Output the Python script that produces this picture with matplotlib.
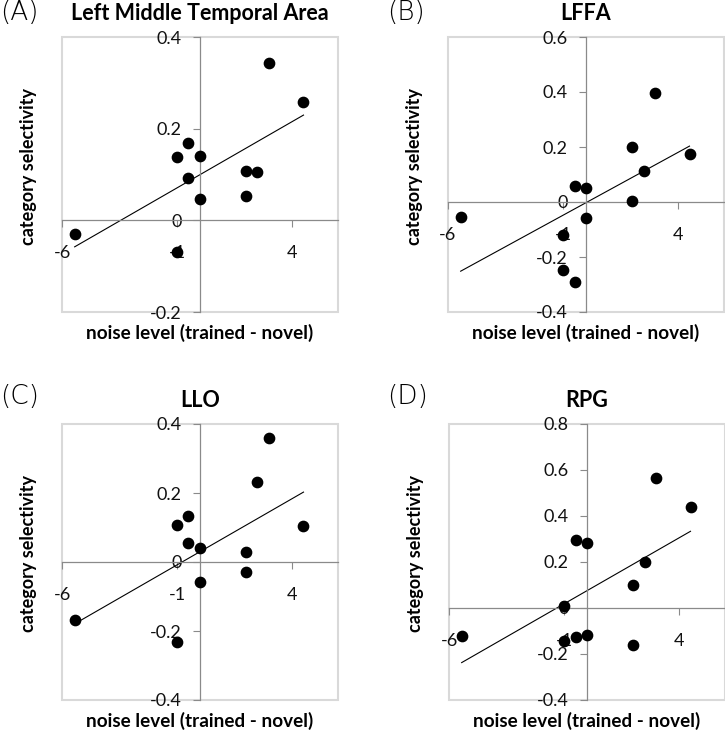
import numpy as np
import matplotlib.pyplot as plt
from matplotlib.patches import Rectangle

# noise level (trained - novel), same subjects in every panel
noise = [-5.45, -1.0, -1.0, -0.5, -0.5, 0.0, 0.0, 2.0, 2.0, 2.5, 3.0, 4.5]

# category selectivity per region
sel_lmta = [-0.029, -0.069, 0.138, 0.168, 0.092, 0.141, 0.046, 0.108, 0.054, 0.105, 0.343, 0.259]
sel_lffa = [-0.056, -0.119, -0.246, 0.058, -0.291, 0.050, -0.058, 0.199, 0.005, 0.112, 0.395, 0.175]
sel_llo = [-0.168, 0.107, -0.232, 0.134, 0.055, 0.041, -0.059, 0.029, -0.030, 0.231, 0.359, 0.105]
sel_rpg = [-0.121, 0.009, -0.145, 0.295, -0.124, 0.284, -0.119, 0.100, -0.161, 0.199, 0.564, 0.441]

letters = ["(A)", "(B)", "(C)", "(D)"]
titles = ["Left Middle Temporal Area", "LFFA", "LLO", "RPG"]
series = [sel_lmta, sel_lffa, sel_llo, sel_rpg]
ylims = [(-0.2, 0.4), (-0.4, 0.6), (-0.4, 0.4), (-0.4, 0.8)]
yticks = [[-0.2, 0, 0.2, 0.4],
          [-0.4, -0.2, 0, 0.2, 0.4, 0.6],
          [-0.4, -0.2, 0, 0.2, 0.4],
          [-0.4, -0.2, 0, 0.2, 0.4, 0.6, 0.8]]
xticks = [-6, -1, 4]

W, H = 725, 730
fig = plt.figure(figsize=(W / 100, H / 100), dpi=100)

# plot boxes in pixels: left, top, width, height
boxes = [(62, 37, 276, 275), (448, 37, 276, 275),
         (62, 424, 276, 276), (449, 424, 276, 276)]

font = "Lato"
axis_grey = "#8a8a8a"
box_grey = "#d9d9d9"

for i in range(4):
    l, t, w, h = boxes[i]
    ax = fig.add_axes([l / W, 1 - (t + h) / H, w / W, h / H])
    x = np.array(noise)
    y = np.array(series[i])

    ax.scatter(x, y, s=55, color="black", zorder=3, clip_on=False)
    # linear trendline
    m, b = np.polyfit(x, y, 1)
    xs = np.array([x.min(), x.max()])
    ax.plot(xs, m * xs + b, color="black", lw=0.8, zorder=2)

    ax.set_xlim(-6, 6)
    ax.set_ylim(*ylims[i])
    ax.spines["left"].set_position("zero")
    ax.spines["bottom"].set_position("zero")
    ax.spines["top"].set_visible(False)
    ax.spines["right"].set_visible(False)
    for s in ["left", "bottom"]:
        ax.spines[s].set_color(axis_grey)
        ax.spines[s].set_linewidth(0.9)

    ax.set_xticks(xticks)
    ax.set_xticklabels([str(v) for v in xticks])
    ax.set_yticks(yticks[i])
    ax.set_yticklabels(["0" if v == 0 else f"{v:.1f}" for v in yticks[i]])
    ax.tick_params(axis="x", direction="out", length=5, color=axis_grey, pad=13)
    ax.tick_params(axis="y", direction="out", length=5, color=axis_grey, pad=8)
    for lab in ax.get_xticklabels() + ax.get_yticklabels():
        lab.set_fontfamily(font)
        lab.set_fontsize(13)
        lab.set_color("#111111")

    # light frame round the plot area
    ax.add_patch(Rectangle((0, 0), 1, 1, transform=ax.transAxes, fill=False,
                           edgecolor=box_grey, lw=1.5, clip_on=False, zorder=0))

    ax.text(0.5, 1 + 23 / h, titles[i], transform=ax.transAxes, ha="center",
            va="center", fontsize=15.5, fontweight="bold", family=font)
    ax.text(0.5, -21 / h, "noise level (trained - novel)", transform=ax.transAxes,
            ha="center", va="center", fontsize=13.6, fontweight="bold", family=font)
    ax.text(-0.12, 0.53, "category selectivity", transform=ax.transAxes,
            ha="center", va="center", rotation=90, fontsize=13,
            fontweight="bold", family=font)

    # panel letter
    lx = 0 if i % 2 == 0 else 387
    ly = 0 if i < 2 else 384
    fig.text(lx / W, 1 - ly / H, letters[i], ha="left", va="top",
             fontsize=19, family="DejaVu Sans", fontweight="light")

fig.savefig("out.png", dpi=100)
